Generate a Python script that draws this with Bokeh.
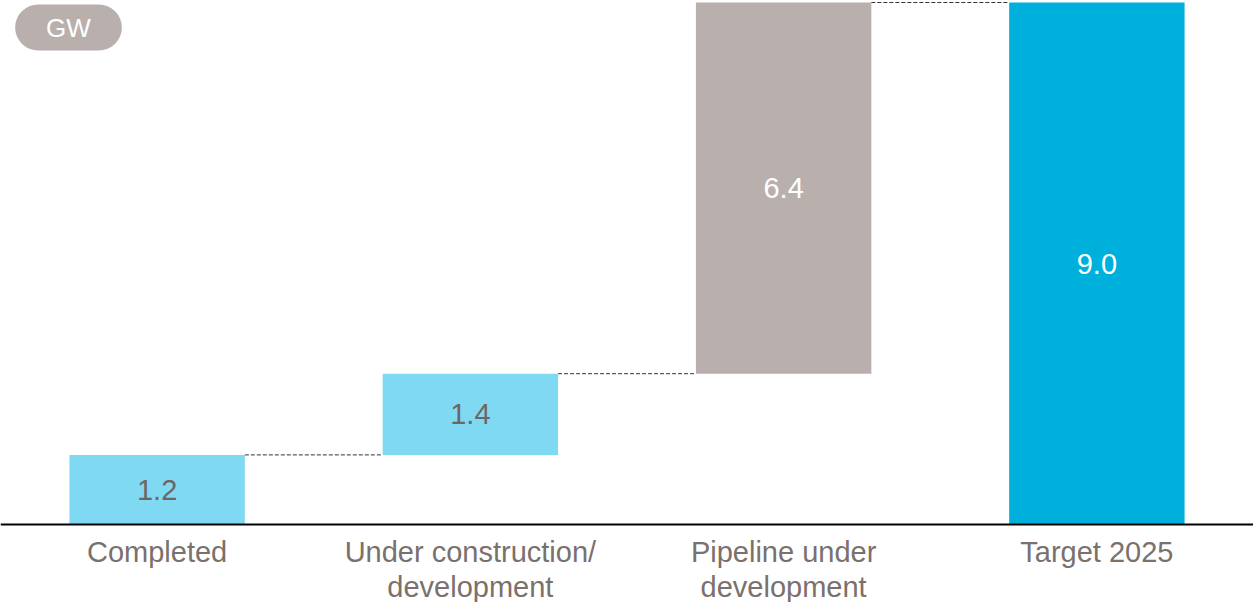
from bokeh.plotting import figure
from bokeh.models import Span, Label, ColumnDataSource, Range1d
from bokeh.core.properties import value
from bokeh.embed import file_html
from bokeh.resources import INLINE

categories = ["Completed", "Under construction/\ndevelopment", "Pipeline under\ndevelopment", "Target 2025"]
values = [1.2, 1.4, 6.4, 9.0]
is_total = [False, False, False, True]
unit_label = "GW"

colors = ["#80d9f3", "#80d9f3", "#b9b0ad", "#00b0dc"]
value_text_colors = ["#6e6663", "#6e6663", "#ffffff", "#ffffff"]

W, H = 1253, 602
PX_PER = 58.0
BASE_PX = 524
bar_w = 0.56

y_top = BASE_PX / PX_PER
y_bot = -(H - BASE_PX) / PX_PER

p = figure(width=W, height=H, x_range=Range1d(-0.5, 3.5), y_range=Range1d(y_bot, y_top),
           output_backend="svg", toolbar_location=None,
           min_border=0, min_border_left=0, min_border_right=0, min_border_top=0, min_border_bottom=0)
p.axis.visible = False
p.grid.visible = False
p.outline_line_color = None
p.background_fill_color = "white"

bottoms, tops = [], []
run = 0.0
for v, t in zip(values, is_total):
    if t:
        bottoms.append(0.0); tops.append(v)
    else:
        bottoms.append(run); tops.append(run + v); run += v

xs = list(range(len(values)))
src = ColumnDataSource(dict(x=xs, bottom=bottoms, top=tops, color=colors,
                            mid=[(b + t) / 2 for b, t in zip(bottoms, tops)],
                            lab=[f"{v:.1f}" for v in values], tc=value_text_colors,
                            cat=categories))
p.vbar(x="x", width=bar_w, bottom="bottom", top="top", fill_color="color", line_color=None, source=src)

# connectors
x0 = [i + bar_w / 2 for i in xs[:-1]]
x1 = [i + 1 - bar_w / 2 for i in xs[:-1]]
yc = tops[:-1]
p.segment(x0=x0, y0=yc, x1=x1, y1=yc, line_color="#333333", line_width=1, line_dash="4 2")

p.add_layout(Span(location=0, dimension="width", line_color="black", line_width=2))

p.text(x="x", y="mid", text="lab", text_color="tc", source=src, text_align="center",
       text_baseline="middle", text_font=value("Liberation Sans"), text_font_size="29px")

p.text(x="x", y=-(535 - BASE_PX) / PX_PER, text="cat", source=src, text_align="center",
       text_baseline="top", text_font=value("Liberation Sans"), text_font_size="29px",
       text_color="#7a706c", text_line_height=1.1)

p.add_layout(Label(x=68, y=H - 27, x_units="screen", y_units="screen", text=unit_label,
                   text_align="center", text_baseline="middle", text_color="white",
                   text_font="Liberation Sans", text_font_size="26px",
                   background_fill_color="#b9b0ad", padding=(31, 8), border_radius=23))

open("out.html", "w").write(file_html(p, INLINE))
